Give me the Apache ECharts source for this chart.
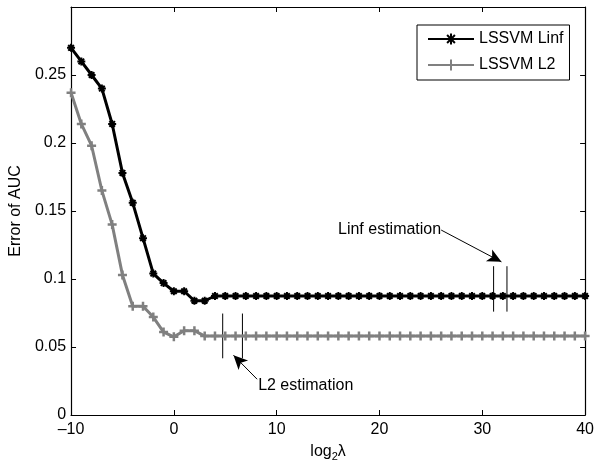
<!DOCTYPE html>
<html><head><meta charset="utf-8">
<script src="https://cdn.jsdelivr.net/npm/echarts@6/dist/echarts.min.js"></script>
<style>html,body{margin:0;padding:0;background:#fff}#c{width:597px;height:467px}</style>
</head><body><div id="c"></div>
<script>
var lambdas = [-10,-9,-8,-7,-6,-5,-4,-3,-2,-1,0,1,2,3,4,5,6,7,8,9,10,11,12,13,14,15,16,17,18,19,20,21,22,23,24,25,26,27,28,29,30,31,32,33,34,35,36,37,38,39,40];
var linfErr = [0.270,0.260,0.250,0.240,0.214,0.178,0.156,0.130,0.104,0.097,0.091,0.091,0.084,0.084,
  0.0875,0.0875,0.0875,0.0875,0.0875,0.0875,0.0875,0.0875,0.0875,0.0875,0.0875,0.0875,0.0875,0.0875,0.0875,0.0875,0.0875,0.0875,0.0875,0.0875,0.0875,0.0875,0.0875,0.0875,0.0875,0.0875,0.0875,0.0875,0.0875,0.0875,0.0875,0.0875,0.0875,0.0875,0.0875,0.0875,0.0875];
var l2Err = [0.237,0.214,0.198,0.165,0.140,0.103,0.080,0.080,0.072,0.061,0.0575,0.062,0.062,
  0.058,0.058,0.058,0.058,0.058,0.058,0.058,0.058,0.058,0.058,0.058,0.058,0.058,0.058,0.058,0.058,0.058,0.058,0.058,0.058,0.058,0.058,0.058,0.058,0.058,0.058,0.058,0.058,0.058,0.058,0.058,0.058,0.058,0.058,0.058,0.058,0.058,0.058];
var seriesNames = ['LSSVM Linf','LSSVM L2'];
var xTicks = [-10,0,10,20,30,40];
var yTicks = [0,0.05,0.1,0.15,0.2,0.25,0.3];
var linfEstX = [31.1, 32.4], linfEstY = [0.076, 0.1094];
var l2EstX = [4.75, 6.67], l2EstY = [0.0417, 0.0746];
var linfArrow = [[26.0, 0.136],[31.86, 0.1126]];
var l2Arrow = [[8.1, 0.0263],[5.8, 0.0439]];
var annLinf = 'Linf estimation', annL2 = 'L2 estimation';

var FONT = "'Liberation Sans', Arial, Helvetica, sans-serif";
var FS = 16;
function zip(xs, ys){ return xs.map(function(x,i){return [x, ys[i]];}); }
function vline(x, yr){ return [[x, yr[0]],[x, yr[1]]]; }

var starPath = 'path://M5,0L5,10M0,5L10,5M1.5,1.5L8.5,8.5M8.5,1.5L1.5,8.5';
var plusPath = 'path://M5,0L5,10M0,5L10,5';

var chart = echarts.init(document.getElementById('c'), null, {renderer:'canvas'});
var axisLine = {show:true, onZero:false, lineStyle:{color:'#000', width:1.2}};
var tick = {show:true, inside:true, length:5, lineStyle:{color:'#000'}};
var estStyle = {color:'#000', width:1};
function estSeries(x, yr){
  return {type:'line', xAxisIndex:0, yAxisIndex:0, data:vline(x, yr), symbol:'none', lineStyle:estStyle, silent:true, z:1, animation:false};
}
function arrowSeries(pts){
  return {type:'line', data:[], silent:true, animation:false,
    markLine:{silent:true, symbol:['none','arrow'], symbolSize:[10,14], animation:false,
      lineStyle:{color:'#000', width:1, type:'solid'}, label:{show:false},
      data:[[{coord:pts[0]},{coord:pts[1]}]]}};
}
chart.setOption({
  animation:false,
  textStyle:{fontFamily:FONT, color:'#000'},
  grid:{left:66, right:9, top:7, bottom:49, containLabel:false},
  legend:{show:true, orient:'vertical', left:417, top:25, padding:[6,6,7,10], itemGap:10,
    itemWidth:46, itemHeight:14, borderColor:'#000', borderWidth:1, backgroundColor:'#fff',
    textStyle:{fontFamily:FONT, fontSize:FS, color:'#000', padding:[0,0,0,0]},
    data:seriesNames},
  xAxis:[
    {type:'value', min:xTicks[0], max:xTicks[xTicks.length-1], interval:10, position:'bottom',
     axisLine:axisLine, axisTick:tick, splitLine:{show:false},
     axisLabel:{color:'#000', fontFamily:FONT, fontSize:FS, margin:7,
       formatter:function(v){ return String(v).replace('-', '\u2013'); }},
     name:'{a|log}{s|2}{a|λ}', nameLocation:'middle', nameGap:26,
     nameTextStyle:{rich:{a:{fontFamily:FONT, fontSize:FS, color:'#000'}, s:{fontFamily:FONT, fontSize:11, color:'#000', verticalAlign:'bottom', padding:[10,0,0,0]}}}},
    {type:'value', min:xTicks[0], max:xTicks[xTicks.length-1], interval:10, position:'top',
     axisLine:axisLine, axisTick:tick, axisLabel:{show:false}, splitLine:{show:false}}
  ],
  yAxis:[
    {type:'value', min:yTicks[0], max:yTicks[yTicks.length-1], interval:0.05, position:'left',
     axisLine:axisLine, axisTick:tick, splitLine:{show:false},
     axisLabel:{color:'#000', fontFamily:FONT, fontSize:FS, margin:5, showMaxLabel:false,
       formatter:function(v){ return String(parseFloat(v.toFixed(2))); }},
     name:'Error of AUC', nameLocation:'middle', nameGap:45, nameRotate:90,
     nameTextStyle:{fontFamily:FONT, fontSize:FS, color:'#000'}},
    {type:'value', min:yTicks[0], max:yTicks[yTicks.length-1], interval:0.05, position:'right',
     axisLine:axisLine, axisTick:tick, axisLabel:{show:false}, splitLine:{show:false}}
  ],
  series:[
    {name:seriesNames[0], type:'line', data:zip(lambdas, linfErr), symbol:starPath, symbolSize:8,
     showAllSymbol:true, lineStyle:{color:'#000', width:3}, itemStyle:{color:'#000', borderColor:'#000', borderWidth:2},
     z:3},
    {name:seriesNames[1], type:'line', data:zip(lambdas, l2Err), symbol:plusPath, symbolSize:9,
     showAllSymbol:true, lineStyle:{color:'#808080', width:3}, itemStyle:{color:'#808080', borderColor:'#808080', borderWidth:2.5},
     z:2},
    estSeries(linfEstX[0], linfEstY), estSeries(linfEstX[1], linfEstY),
    estSeries(l2EstX[0], l2EstY), estSeries(l2EstX[1], l2EstY),
    arrowSeries(linfArrow), arrowSeries(l2Arrow)
  ]
});
var p1 = chart.convertToPixel({xAxisIndex:0, yAxisIndex:0}, linfArrow[0]);
var p2 = chart.convertToPixel({xAxisIndex:0, yAxisIndex:0}, l2Arrow[0]);
chart.setOption({graphic:[
  {type:'text', x:p1[0], y:p1[1], style:{text:annLinf, font:FS+'px '+FONT, fill:'#000', align:'right', verticalAlign:'middle'}},
  {type:'text', x:p2[0]+1, y:p2[1]+6, style:{text:annL2, font:FS+'px '+FONT, fill:'#000', align:'left', verticalAlign:'middle'}}
]});
</script></body></html>
